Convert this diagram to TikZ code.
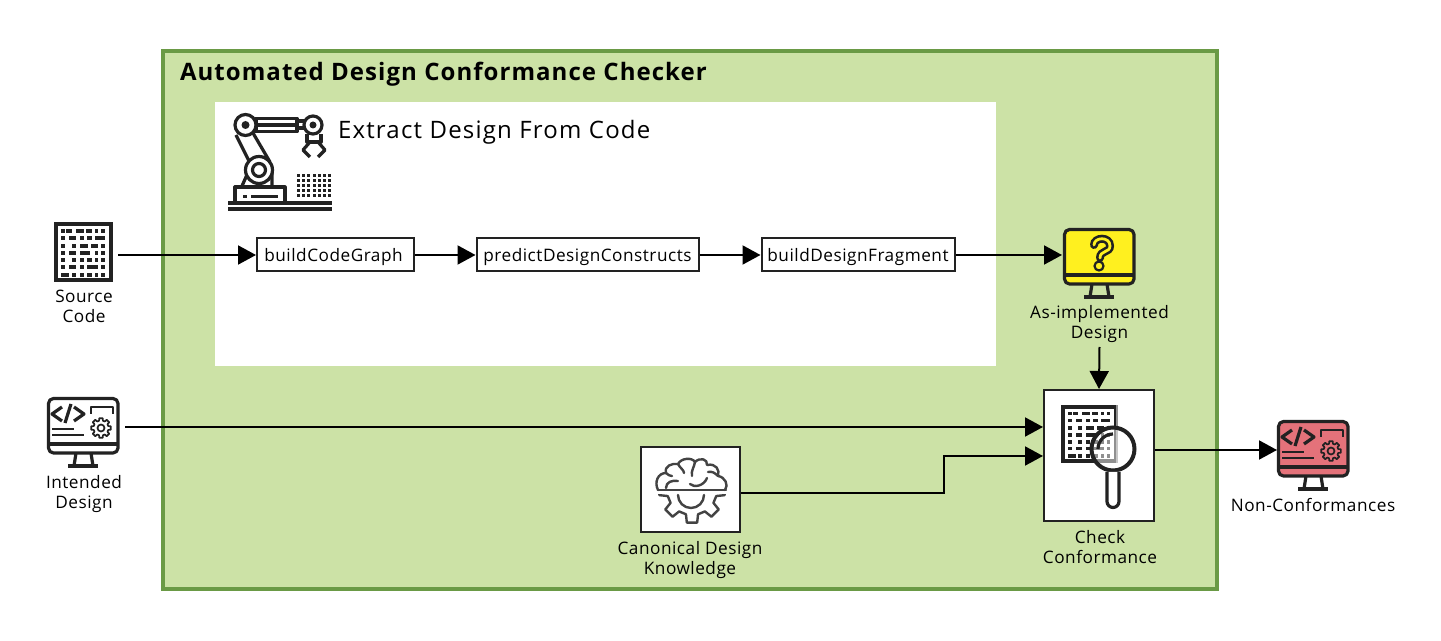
\documentclass[tikz,border=0pt]{standalone}
\usepackage{fontspec}
\setmainfont[LetterSpace=3]{Open Sans}
\usetikzlibrary{arrows.meta}
\definecolor{panelgreen}{HTML}{CCE2A6}
\definecolor{paneledge}{HTML}{6A9A45}
\definecolor{warnyellow}{HTML}{FFF01F}
\definecolor{faultred}{HTML}{E4727A}
\definecolor{icondark}{HTML}{222222}
\tikzset{
    flow/.style={line width=1pt,-{Triangle[length=9pt,width=9.5pt]}},
    panel/.style={draw=paneledge,line width=2pt,fill=panelgreen},
    headline/.style={inner sep=0pt,outer sep=0pt,anchor=west},
    procbox/.style={draw=icondark,line width=1pt,fill=white,minimum height=16.5pt,inner sep=0pt,text height=9pt,text depth=2pt,font=\fontsize{8.6}{10}\selectfont},
    holder/.style={draw=icondark,line width=1pt,fill=white,inner sep=0pt},
    spot/.style={inner sep=0pt,outer sep=0pt},
    caption/.style={align=center,inner sep=0pt,font=\fontsize{8.6}{10}\selectfont},
    ink/.style={draw=icondark,line width=1.6pt,line join=round},
    thinink/.style={draw=icondark,line width=1.1pt,line join=round},
    gearink/.style={draw=icondark,line width=.85pt,line join=round},
    brainink/.style={draw=icondark!85,line width=1.2pt,line cap=round,line join=round},
    gear/.pic={
        \draw[gearink] (-10:10) \foreach \a in {0,45,...,315} {-- (\a-10:10) -- (\a+10:10) -- (\a+15:7.5) -- (\a+30:7.5)} -- cycle;
        \draw[gearink] (0,0) circle (3.5);
    },
    monitor/.pic={
        \draw[ink,fill=#1,rounded corners=2.5pt] (1.5,1.5) rectangle (71,56);
        \draw[ink] (1.5,47) -- (71,47);
        \draw[ink] (29,56) -- (27,69) (44,56) -- (46,69);
        \draw[ink] (21,69) -- (51,69);
    },
    codescreen/.pic={
        \draw[ink] (15,10) -- (5,17) -- (15,24);
        \draw[ink] (24,7) -- (18,26);
        \draw[ink] (27,10) -- (37,17) -- (27,24);
        \draw[thinink] (5,32) -- (27,32) (5,38) -- (37,38);
        \draw[thinink] (44,17) -- (44,10) -- (66,10) -- (66,17);
        \pic at (54,31) {gear};
    },
    codegrid/.pic={
        \draw[draw=icondark,line width=2pt,fill=white] (2,2) rectangle (57,58);
        \foreach \y/\segs in {
            7/{7/11,12/18,22/30,32/38,41/44,47/51},
            14/{7/11,15/22,26/30,33/38,41/51},
            22/{7/11,18/22,26/34,37/44,47/51},
            29/{7/11,15/22,26/36,41/44,47/51},
            36/{7/11,18/22,26/30,33/38,41/44,47/51},
            43/{7/11,15/22,26/30,33/44,47/51},
            51/{7/15,18/22,26/30,33/38,41/44,47/51}}
            \foreach \a/\b in \segs
                \fill[icondark] (\a,\y) rectangle (\b,\y+3.8);
    },
    robot/.pic={
        % rails and base
        \draw[ink] (13,103) -- (117,103);
        \draw[draw=icondark,line width=2pt] (13,109.5) -- (117,109.5);
        \draw[ink] (20,101) -- (20,87) -- (70,87) -- (70,101);
        \fill[icondark] (28,95) rectangle (32,98);
        \draw[thinink] (36,96.5) -- (63,96.5);
        % arm
        \draw[ink] (21,35) -- (35,63) (38,33) -- (55,62);
        \draw[ink] (35,68) -- (27,86) (57,73) -- (57,86);
        \draw[ink,fill=white] (44,70) circle (13.5);
        \draw[ink] (44,70) circle (6.5);
        \draw[ink] (41,18.5) rectangle (82,31.5);
        \draw[ink] (41,25) -- (82,25);
        \draw[ink] (82,21) rectangle (92,28);
        \draw[ink,fill=white] (30.5,25) circle (10.5);
        \fill[icondark] (30.5,25) circle (4);
        \draw[ink,fill=white] (98,25) circle (9);
        \fill[icondark] (98,25) circle (3.5);
        % gripper
        \draw[ink] (92,34) -- (92,42) -- (106,42) -- (106,34);
        \draw[ink] (95,42) -- (88,50) -- (95,57);
        \draw[ink] (103,42) -- (110,50) -- (103,57);
        % dots
        \foreach \i in {0,...,6}
            \foreach \j in {0,...,4}
                \fill[icondark] (82+\i*5.2,74+\j*5.1) rectangle +(3,3);
    },
    brain/.pic={
        \draw[brainink] (-34,0) -- (34,0);
        \draw[brainink] (-34,0) .. controls (-38,-8) and (-34,-17) .. (-26,-17)
            .. controls (-28,-24) and (-20,-27) .. (-14,-26)
            .. controls (-11,-32) and (0,-33) .. (3,-28)
            .. controls (8,-33) and (16,-31) .. (15,-25)
            .. controls (24,-27) and (28,-20) .. (26,-14)
            .. controls (33,-13) and (37,-5) .. (33,0);
        \draw[brainink] (-26,-17) .. controls (-24,-15) and (-22,-14) .. (-20,-14);
        \draw[brainink] (-26,-2) .. controls (-26,-8) and (-20,-10) .. (-14,-9);
        \draw[brainink] (-14,-26) .. controls (-12,-22) and (-8,-20) .. (-8,-17);
        \draw[brainink] (3,-28) .. controls (2,-22) and (-1,-20) .. (0,-14);
        \draw[brainink] (-2,-6) .. controls (2,-2) and (12,-4) .. (15,-12);
        \draw[brainink] (16,-18) .. controls (20,-19) and (23,-17) .. (26,-14);
        \begin{scope}
            \clip (-40,5) rectangle (40,40);
            \draw[brainink] (-10:24)
                \foreach \a in {0,45,...,315} {-- (\a-9:33) -- (\a+9:33) -- (\a+14:25) -- (\a+31:25)} -- cycle;
        \end{scope}
        \draw[brainink] (-14,5) arc (180:0:13);
    },
    lens/.pic={
        \draw[white,opacity=.5,line width=2.4pt] (5,-44) -- (5,17) -- (-12,17);
        \fill[white,opacity=.5] (0,0) circle (21);
        \draw[ink] (-15,0) arc (180:270:15);
        \draw[draw=icondark,line width=2pt] (0,0) circle (21.5);
        \draw[ink,fill=white] (-6,23) -- (-6,52.5) arc (180:0:6) -- (6,23);
    }
}
\begin{document}
\begin{tikzpicture}[x=0.5pt,y=-0.5pt]
    \useasboundingbox (0,0) rectangle (1441,641);
    \draw[panel] (163,51) rectangle (1217,589);
    \fill[white] (215,102) rectangle (996,366);
    \node[headline,font=\fontsize{12}{14}\selectfont\bfseries\addfontfeatures{LetterSpace=4.4}] (checkertitle) at (180,74) {Automated Design Conformance Checker};
    \node[headline,font=\fontsize{12}{14}\selectfont\addfontfeatures{LetterSpace=5}] (extracttitle) at (338,132) {Extract Design From Code};
    \pic at (215,100) {robot};

    % process boxes
    \node[procbox,minimum width=78.5pt] (codegraph) at (335.5,255) {buildCodeGraph\kern 2pt};
    \node[procbox,minimum width=111pt] (constructs) at (587.5,255) {predictDesignConstructs};
    \node[procbox,minimum width=96.5pt] (fragment) at (858,255) {buildDesignFragment};

    % icons, each on a named spot
    \node[spot,minimum width=34pt,minimum height=33pt] (sourcecode) at (84,255) {};
    \pic at (54,222) {codegrid};
    \node[caption] (sourcelabel) at (84,306) {Source\\Code};

    \node[spot,minimum width=41pt,minimum height=40pt] (intended) at (84,427) {};
    \pic at (47,397) {monitor=white};
    \pic at (47,397) {codescreen};
    \node[caption] (intendedlabel) at (84,494) {Intended\\Design};

    \node[spot,minimum width=38pt,minimum height=30pt] (asbuilt) at (1100,255) {};
    \pic at (1063,228) {monitor=warnyellow};
    \draw[draw=icondark,line width=4pt,line cap=round] (1094,245) .. controls (1094,237) and (1110,236) .. (1110,246) .. controls (1110,253) and (1100,250) .. (1100,258);
    \draw[draw=warnyellow,line width=1.4pt,line cap=round] (1094,245) .. controls (1094,237) and (1110,236) .. (1110,246) .. controls (1110,253) and (1100,250) .. (1100,258);
    \draw[thinink,fill=warnyellow] (1099,266) circle (4.5);
    \node[caption] (asbuiltlabel) at (1099.5,324) {As-implemented\\Design};

    \node[holder,minimum width=55pt,minimum height=65.5pt] (check) at (1099,455.5) {};
    \pic[scale=.97] at (1061,405) {codegrid};
    \pic at (1113,449) {lens};
    \node[caption] (checklabel) at (1100,547) {Check\\Conformance};

    \node[holder,minimum width=49.5pt,minimum height=42.5pt] (canon) at (690.5,489.5) {};
    \pic at (692,490) {brain};
    \node[caption] (canonlabel) at (690,560) {Canonical Design\\Knowledge};

    \node[spot,minimum width=36pt,minimum height=30pt] (nonconf) at (1313,450) {};
    \pic at (1277,420) {monitor=faultred};
    \pic at (1277,420) {codescreen};
    \node[caption] (nonconflabel) at (1313,505) {Non-Conformances};

    % connectors
    \draw[flow] (sourcecode.east) -- (codegraph.west);
    \draw[flow] (codegraph) -- (constructs);
    \draw[flow] (constructs) -- (fragment);
    \draw[flow] (fragment) -- (asbuilt.west);
    \draw[flow] (asbuiltlabel.south) ++(0,4) -- (check.north);
    \draw[flow] (intended.east) -- (intended.east -| check.west);
    \coordinate (canonbend) at (944,456);
    \draw[flow] (canon.east |- 0,493) -| (canonbend) -- (canonbend -| check.west);
    \draw[flow] (check.east |- nonconf.west) -- (nonconf.west);
\end{tikzpicture}
\end{document}
